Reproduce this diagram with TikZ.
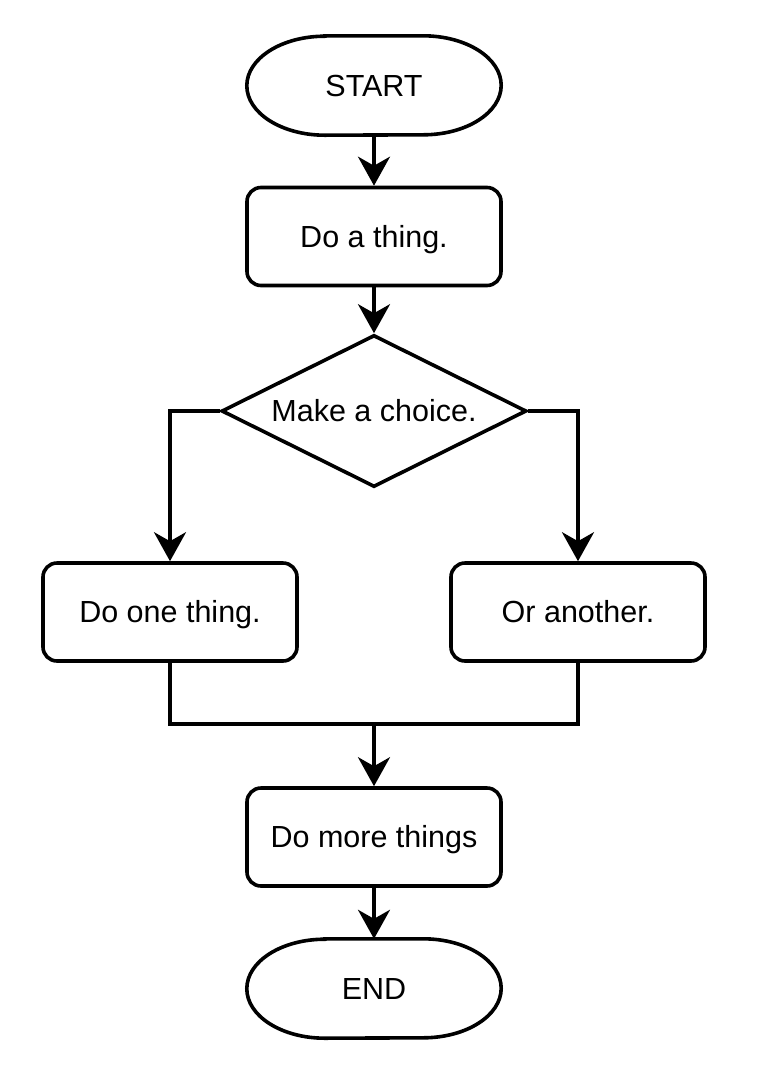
\documentclass[tikz,border=0pt]{standalone}
\usepackage{fontspec}
\setmainfont{Liberation Sans}
\usetikzlibrary{arrows.meta,shapes.geometric}
\begin{document}
\begin{tikzpicture}[x=1pt,y=-1pt,
  every node/.style={font=\fontsize{30.5}{36}\selectfont, text height=21.8pt, text depth=0pt, inner sep=0pt},
  box/.style={draw, line width=3.6pt, rounded corners=14pt, minimum width=254pt, minimum height=98pt},
  term/.style={minimum width=254pt, minimum height=99pt},
  choicebox/.style={draw, diamond, line width=3.6pt, minimum width=305pt, minimum height=152pt, aspect=2},
  link/.style={line width=3.6pt},
  arr/.style={link, -{Stealth[length=29pt, width=32pt, inset=9pt]}}
]
\useasboundingbox (0,0) rectangle (762,1080);

\node[term] (start) at (374,85.5) {START};
\node[box] (do1) at (374,236.5) {Do a thing.};
\node[choicebox] (choice) at (374,411) {Make a choice.};
\node[box] (one) at (170,612) {Do one thing.};
\node[box] (two) at (578,612) {Or another.};
\coordinate (m) at (374,724);
\node[box] (more) at (374,837) {Do more things};
\node[term] (stop) at (374,988.5) {END};

\draw[link] ([xshift=78pt]start.north west) -- ([xshift=-78pt]start.north east)
  arc[start angle=90,end angle=-90,x radius=78pt,y radius=49.5pt]
  -- ([xshift=78pt]start.south west)
  arc[start angle=270,end angle=90,x radius=78pt,y radius=49.5pt] -- cycle;
\draw[link] ([xshift=78pt]stop.north west) -- ([xshift=-78pt]stop.north east)
  arc[start angle=90,end angle=-90,x radius=78pt,y radius=49.5pt]
  -- ([xshift=78pt]stop.south west)
  arc[start angle=270,end angle=90,x radius=78pt,y radius=49.5pt] -- cycle;

\draw[arr] (start) -- (do1);
\draw[arr] (do1) -- (choice);
\draw[arr] (choice.west) -| (one.north);
\draw[arr] (choice.east) -| (two.north);
\draw[link] (one.south) -- (one.south |- m) -- (two.south |- m) -- (two.south);
\draw[arr] (m) -- (more);
\draw[arr] (more) -- (stop);
\end{tikzpicture}
\end{document}
